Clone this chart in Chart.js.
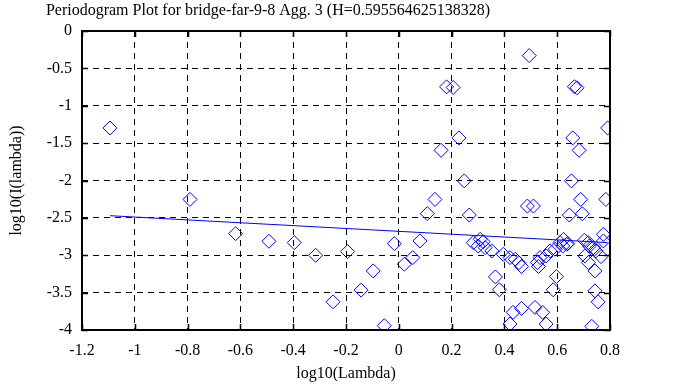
<!DOCTYPE html>
<html>
<head>
<meta charset="utf-8">
<script src="https://cdn.jsdelivr.net/npm/chart.js@4.4.0/dist/chart.umd.min.js"></script>
<style>
  html, body { margin: 0; padding: 0; background: #fff; }
  #wrap { width: 673px; height: 387px; }
</style>
</head>
<body>
<div id="wrap"><canvas id="myChart" width="673" height="387"></canvas></div>
<script>
// Datos
const chartTitle = 'Periodogram Plot for bridge-far-9-8 Agg. 3 (H=0.595564625138328)';
const hurst = 0.595564625138328;
const fitSlope = 1 - 2 * hurst;
const fitIntercept = -2.68;

const logLambda = [
  -1.094, -0.791, -0.618, -0.492, -0.396, -0.315, -0.249, -0.194, -0.143, -0.097,
  -0.055, -0.017, 0.021, 0.053, 0.080, 0.108, 0.137, 0.160, 0.181, 0.206,
  0.228, 0.248, 0.267, 0.282, 0.301, 0.308, 0.327, 0.320, 0.352, 0.366,
  0.381, 0.396, 0.421, 0.441, 0.455, 0.465, 0.433, 0.421, 0.465, 0.487,
  0.494, 0.510, 0.516, 0.525, 0.535, 0.529, 0.545, 0.558, 0.558, 0.573,
  0.592, 0.585, 0.597, 0.611, 0.624, 0.636, 0.621, 0.646, 0.654, 0.659,
  0.665, 0.675, 0.683, 0.689, 0.695, 0.703, 0.705, 0.718, 0.718, 0.722,
  0.737, 0.743, 0.743, 0.755, 0.731, 0.747, 0.766, 0.775, 0.775, 0.784,
  0.791, 0.640
];
const logPeriodogram = [
  -1.297, -2.253, -2.711, -2.813, -2.831, -3.000, -3.623, -2.951, -3.467, -3.209,
  -3.942, -2.844, -3.120, -3.031, -2.809, -2.444, -2.253, -1.596, -0.747, -0.756,
  -1.430, -2.005, -2.462, -2.831, -2.876, -2.787, -2.898, -2.820, -2.942, -3.290,
  -3.462, -2.987, -3.031, -3.053, -3.100, -3.151, -3.764, -3.920, -3.711, -2.342,
  -0.329, -2.342, -3.698, -3.098, -3.031, -3.151, -3.764, -3.920, -3.009, -2.942,
  -2.920, -3.462, -3.285, -2.831, -2.787, -2.853, -2.876, -2.462, -2.005, -1.430,
  -0.745, -0.760, -1.596, -2.253, -2.444, -2.800, -3.009, -2.831, -3.098, -2.876,
  -2.898, -3.209, -3.476, -3.623, -3.951, -2.942, -3.018, -2.720, -2.809, -2.253,
  -1.297, -2.844
];

const xTicks = [-1.2, -1, -0.8, -0.6, -0.4, -0.2, 0, 0.2, 0.4, 0.6, 0.8];
const yTicks = [-4, -3.5, -3, -2.5, -2, -1.5, -1, -0.5, 0];

const puntos = logLambda.map((x, i) => ({ x: x, y: logPeriodogram[i] }));
const xMin = Math.min(...logLambda);
const xMax = Math.max(...logLambda);
const recta = [xMin, xMax].map(x => ({ x: x, y: fitIntercept + fitSlope * x }));

const fuente = '"Liberation Serif", "DejaVu Serif", serif';

// Título, marco y marcas interiores de los ejes
const marcoPlugin = {
  id: 'marco',
  afterDraw(chart) {
    const c = chart.ctx;
    const a = chart.chartArea;
    const sx = chart.scales.x, sy = chart.scales.y;
    c.save();
    c.fillStyle = '#000';
    c.font = '16px ' + fuente;
    c.textAlign = 'center';
    c.textBaseline = 'middle';
    c.fillText(chartTitle, 268, 11);

    c.strokeStyle = '#000';
    c.lineWidth = 1.5;
    xTicks.forEach(v => {
      const px = Math.round(sx.getPixelForValue(v)) + 0.5;
      c.beginPath();
      c.moveTo(px, a.bottom); c.lineTo(px, a.bottom - 6);
      c.moveTo(px, a.top); c.lineTo(px, a.top + 6);
      c.stroke();
    });
    yTicks.forEach(v => {
      const py = Math.round(sy.getPixelForValue(v)) + 0.5;
      c.beginPath();
      c.moveTo(a.left, py); c.lineTo(a.left + 6, py);
      c.moveTo(a.right, py); c.lineTo(a.right - 6, py);
      c.stroke();
    });
    c.lineWidth = 2;
    c.strokeRect(a.left, a.top, a.right - a.left, a.bottom - a.top);
    c.restore();
  }
};

const ctx = document.getElementById('myChart').getContext('2d');
const chart = new Chart(ctx, {
  type: 'scatter',
  data: {
    datasets: [{
      data: puntos,
      pointStyle: 'rectRot',
      pointRadius: 7,
      pointHoverRadius: 7,
      borderColor: '#0000ff',
      backgroundColor: 'rgba(0,0,0,0)',
      pointBorderWidth: 1,
      showLine: false
    }, {
      type: 'line',
      data: recta,
      borderColor: '#0000ff',
      borderWidth: 1,
      pointRadius: 0,
      fill: false
    }]
  },
  options: {
    responsive: false,
    animation: false,
    events: [],
    layout: { padding: { top: 31, right: 63, bottom: 0, left: 0 } },
    plugins: {
      legend: { display: false },
      tooltip: { enabled: false },
      title: { display: false }
    },
    scales: {
      x: {
        type: 'linear',
        min: -1.2,
        max: 0.8,
        afterBuildTicks: s => { s.ticks = xTicks.map(v => ({ value: v })); },
        afterFit: s => { s.height = 57; },
        grid: { color: '#000', lineWidth: 1, drawTicks: false },
        border: { display: false, dash: [6, 5] },
        ticks: {
          color: '#000',
          padding: 11,
          maxRotation: 0,
          font: { family: fuente, size: 16 },
          callback: v => String(parseFloat(v.toFixed(2)))
        },
        title: {
          display: true,
          text: 'log10(Lambda)',
          color: '#000',
          font: { family: fuente, size: 16 },
          padding: { top: 0, bottom: 4 }
        }
      },
      y: {
        type: 'linear',
        min: -4,
        max: 0,
        afterBuildTicks: s => { s.ticks = yTicks.map(v => ({ value: v })); },
        afterFit: s => { s.width = 82; },
        grid: { color: '#000', lineWidth: 1, drawTicks: false },
        border: { display: false, dash: [6, 5] },
        ticks: {
          color: '#000',
          padding: 10,
          font: { family: fuente, size: 16 },
          callback: v => String(parseFloat(v.toFixed(2)))
        },
        title: {
          display: true,
          text: 'log10(I(lambda))',
          color: '#000',
          font: { family: fuente, size: 16 },
          padding: { top: 7, bottom: 0 }
        }
      }
    }
  },
  plugins: [marcoPlugin]
});
</script>
</body>
</html>
